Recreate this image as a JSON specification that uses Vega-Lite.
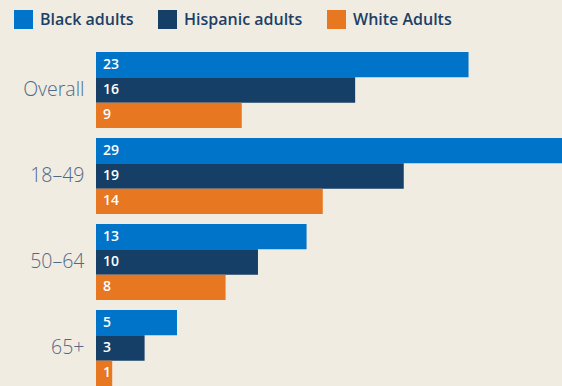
{
  "$schema": "https://vega.github.io/schema/vega-lite/v6.json",
  "width": 466,
  "height": 334,
  "autosize": {"type": "none"},
  "padding": {"left": 96, "top": 52, "right": 0, "bottom": 0},
  "background": "#f1ece2",
  "config": {"view": {"stroke": null}},
  "data": {
    "values": [
      {"age": "Overall", "group": "Black adults", "value": 23},
      {"age": "Overall", "group": "Hispanic adults", "value": 16},
      {"age": "Overall", "group": "White Adults", "value": 9},
      {"age": "18–49", "group": "Black adults", "value": 29},
      {"age": "18–49", "group": "Hispanic adults", "value": 19},
      {"age": "18–49", "group": "White Adults", "value": 14},
      {"age": "50–64", "group": "Black adults", "value": 13},
      {"age": "50–64", "group": "Hispanic adults", "value": 10},
      {"age": "50–64", "group": "White Adults", "value": 8},
      {"age": "65+", "group": "Black adults", "value": 5},
      {"age": "65+", "group": "Hispanic adults", "value": 3},
      {"age": "65+", "group": "White Adults", "value": 1}
    ]
  },
  "encoding": {
    "y": {
      "field": "age",
      "type": "nominal",
      "sort": ["Overall", "18–49", "50–64", "65+"],
      "scale": {"paddingInner": 0.116, "paddingOuter": 0},
      "axis": {
        "title": null,
        "ticks": false,
        "domain": false,
        "labelPadding": 12,
        "labelFont": "Open Sans",
        "labelFontSize": 19.5,
        "labelFontWeight": 300,
        "labelColor": "#4f6a89"
      }
    },
    "yOffset": {
      "field": "group",
      "type": "nominal",
      "sort": ["Black adults", "Hispanic adults", "White Adults"],
      "scale": {"paddingInner": 0, "paddingOuter": 0}
    },
    "x": {
      "field": "value",
      "type": "quantitative",
      "scale": {"domain": [0, 28.77], "nice": false},
      "axis": null
    }
  },
  "layer": [
    {
      "mark": {"type": "bar", "clip": true},
      "encoding": {
        "color": {
          "field": "group",
          "type": "nominal",
          "sort": ["Black adults", "Hispanic adults", "White Adults"],
          "scale": {
            "domain": ["Black adults", "Hispanic adults", "White Adults"],
            "range": ["#0074c8", "#163f68", "#e87722"]
          },
          "legend": {
            "orient": "none",
            "legendX": -82,
            "legendY": -42,
            "direction": "horizontal",
            "title": null,
            "symbolType": "square",
            "symbolSize": 361,
            "symbolStrokeWidth": 0,
            "symbolOpacity": 1,
            "labelFont": "Open Sans",
            "labelFontSize": 16,
            "labelFontWeight": 600,
            "labelColor": "#1d3f66",
            "labelOffset": 7,
            "columnPadding": 24
          }
        }
      }
    },
    {
      "mark": {
        "type": "text",
        "align": "left",
        "dx": 7,
        "color": "white",
        "font": "Open Sans",
        "fontWeight": 600,
        "fontSize": 14
      },
      "encoding": {
        "x": {"datum": 0, "type": "quantitative"},
        "text": {"field": "value", "type": "quantitative"}
      }
    }
  ]
}
